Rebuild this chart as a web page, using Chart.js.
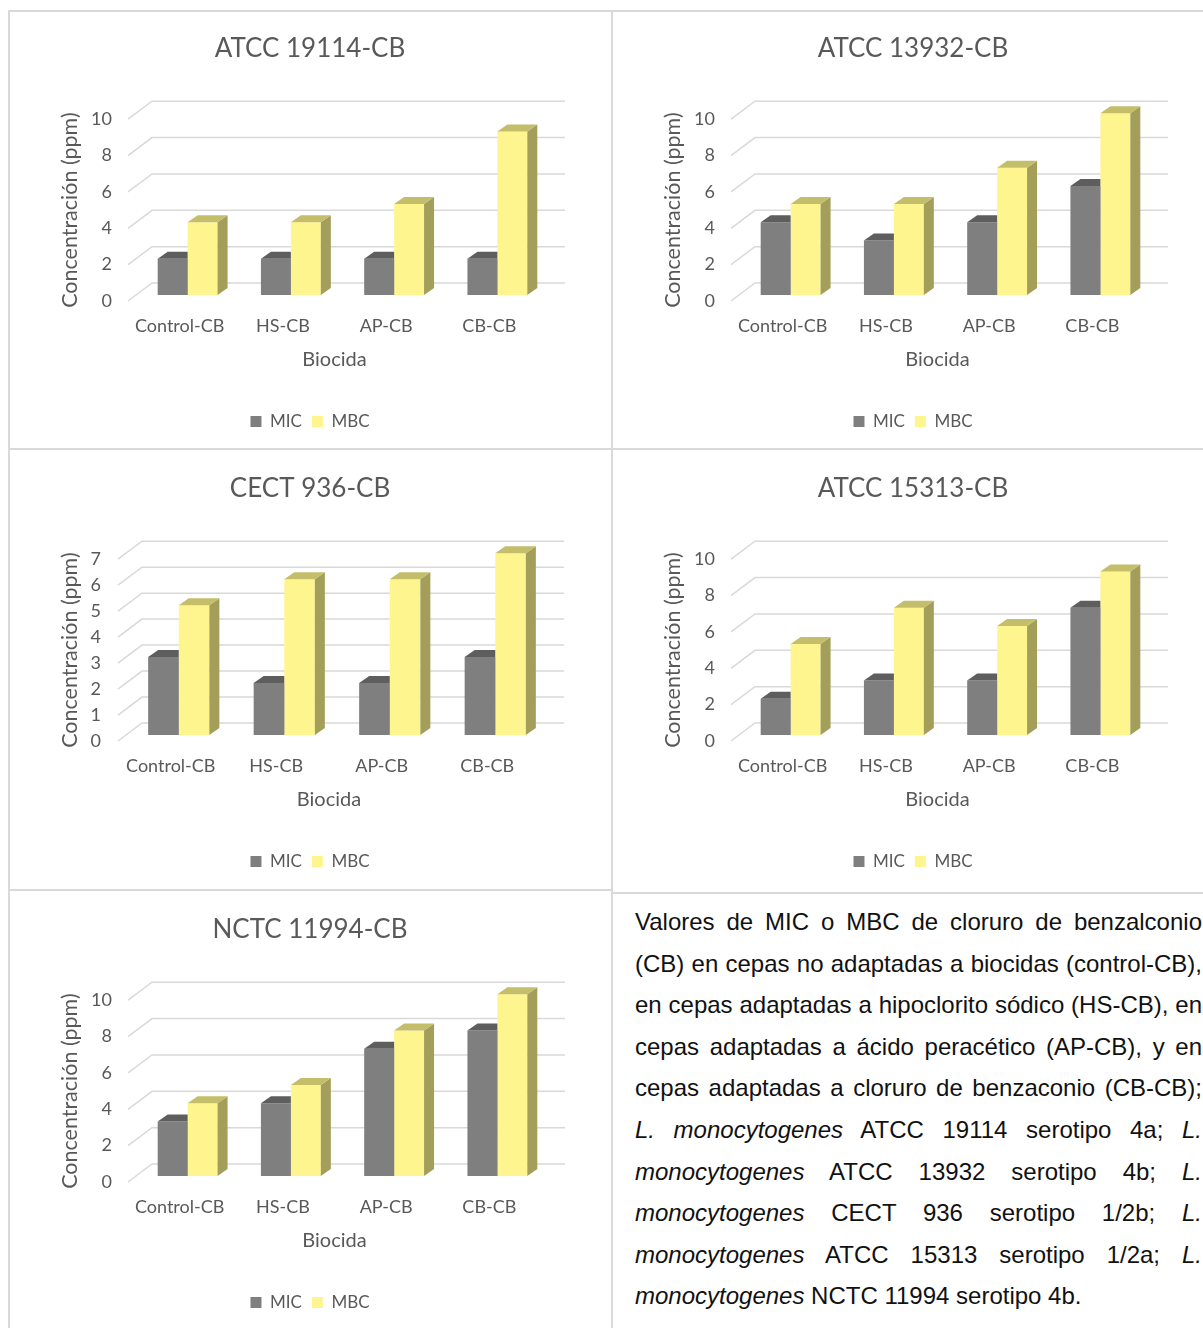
<!DOCTYPE html>
<html lang="es">
<head>
<meta charset="utf-8">
<title>MIC / MBC cloruro de benzalconio</title>
<script src="https://cdn.jsdelivr.net/npm/chart.js@4.4.1/dist/chart.umd.min.js"></script>
<style>
  html, body { margin: 0; padding: 0; background: #fff; width: 1203px; height: 1328px; overflow: hidden; }
  body { position: relative; }
  .panel { position: absolute; }
  .rule { position: absolute; background: #d9d9d9; }
  #caption {
    position: absolute; left: 635px; top: 901px; width: 567px;
    font-family: "Liberation Sans", Arial, sans-serif; font-size: 24px; line-height: 41.6px;
    text-align: justify; color: #111;
  }
</style>
</head>
<body>

<div class="rule" style="left:8px; top:10px; width:1195px; height:2px;"></div>
<div class="rule" style="left:8px; top:10px; width:2px; height:1318px;"></div>
<div class="rule" style="left:611px; top:10px; width:2px; height:1318px;"></div>
<div class="rule" style="left:8px; top:448px; width:1195px; height:2px;"></div>
<div class="rule" style="left:8px; top:889px; width:604px; height:2px;"></div>
<div class="rule" style="left:611px; top:892px; width:592px; height:2px;"></div>

<div id="caption">Valores de MIC o MBC de cloruro de benzalconio (CB) en cepas no adaptadas a biocidas (control-CB), en cepas adaptadas a hipoclorito sódico (HS-CB), en cepas adaptadas a ácido peracético (AP-CB), y en cepas adaptadas a cloruro de benzaconio (CB-CB); <i>L. monocytogenes</i> ATCC 19114 serotipo 4a; <i>L. monocytogenes</i> ATCC 13932 serotipo 4b; <i>L. monocytogenes</i> CECT 936 serotipo 1/2b; <i>L. monocytogenes</i> ATCC 15313 serotipo 1/2a; <i>L. monocytogenes</i> NCTC 11994 serotipo 4b.</div>

<script>
// --- data ---
const categories = ['Control-CB', 'HS-CB', 'AP-CB', 'CB-CB'];
const seriesNames = ['MIC', 'MBC'];

const mic19114 = [2, 2, 2, 2];
const mbc19114 = [4, 4, 5, 9];
const mic13932 = [4, 3, 4, 6];
const mbc13932 = [5, 5, 7, 10];
const mic936 = [3, 2, 2, 3];
const mbc936 = [5, 6, 6, 7];
const mic15313 = [2, 3, 3, 7];
const mbc15313 = [5, 7, 6, 9];
const mic11994 = [3, 4, 7, 8];
const mbc11994 = [4, 5, 8, 10];

// --- look ---
const FONT = 'Lato';
const textColor = '#595959';
const gridColor = '#d9d9d9';
const micColors = { front: '#7f7f7f', top: '#5e5e5e', side: '#666666' };
const mbcColors = { front: '#fff58f', top: '#c4be6a', side: '#a39e5a' };

const floorDx = 24, floorDy = 18;   // depth of the 3D floor
const barShiftX = 8, barShiftY = 6; // bars sit a bit back from the front edge
const barDx = 10, barDy = 7;        // depth of each bar

const CW = 600, CH = 436;

// one entry per panel: where it sits on the page and how its axis runs
const panels = [
  { title: 'ATCC 19114-CB', mic: mic19114, mbc: mbc19114, max: 10, step: 2, left: 10,  top: 12,  areaLeft: 118, areaRight: 531, tickPad: 16 },
  { title: 'ATCC 13932-CB', mic: mic13932, mbc: mbc13932, max: 10, step: 2, left: 613, top: 12,  areaLeft: 118, areaRight: 531, tickPad: 16 },
  { title: 'CECT 936-CB',   mic: mic936,   mbc: mbc936,   max: 7,  step: 1, left: 10,  top: 452, areaLeft: 108, areaRight: 530, tickPad: 17 },
  { title: 'ATCC 15313-CB', mic: mic15313, mbc: mbc15313, max: 10, step: 2, left: 613, top: 452, areaLeft: 118, areaRight: 531, tickPad: 16 },
  { title: 'NCTC 11994-CB', mic: mic11994, mbc: mbc11994, max: 10, step: 2, left: 10,  top: 893, areaLeft: 118, areaRight: 531, tickPad: 16 },
];

function fillPoly(ctx, pts) {
  ctx.beginPath();
  ctx.moveTo(pts[0][0], pts[0][1]);
  for (let i = 1; i < pts.length; i++) ctx.lineTo(pts[i][0], pts[i][1]);
  ctx.closePath();
  ctx.fill();
}

const BAR_PROPS = ['x', 'y', 'base', 'width'];

// fakes the Excel 3D column look: slanted floor/back wall grid + bar tops and sides
const depthPlugin = {
  id: 'depth3d',
  beforeDatasetsDraw(chart) {
    const { ctx, chartArea: a, scales: { y } } = chart;
    ctx.save();
    ctx.strokeStyle = gridColor;
    ctx.lineWidth = 1.5;
    y.ticks.forEach(t => {
      const py = y.getPixelForValue(t.value);
      ctx.beginPath();
      ctx.moveTo(a.left, py);
      ctx.lineTo(a.left + floorDx, py - floorDy);
      ctx.lineTo(a.right + floorDx, py - floorDy);
      ctx.stroke();
    });
    ctx.restore();
  },
  beforeDatasetDraw(chart) {
    chart.ctx.save();
    chart.ctx.translate(barShiftX, -barShiftY);
  },
  afterDatasetDraw(chart, args) {
    const ctx = chart.ctx;
    const ds = chart.data.datasets[args.index];
    const nSets = chart.data.datasets.length;
    args.meta.data.forEach((bar, j) => {
      const { x, y, base, width } = bar.getProps(BAR_PROPS, true);
      const l = x - width / 2, r = x + width / 2;
      ctx.save();
      // datasets paint last-to-first, so keep this bar's top/side behind the fronts already drawn
      ctx.beginPath();
      ctx.rect(-1000, -1000, 4000, 4000);
      for (let k = args.index + 1; k < nSets; k++) {
        const nb = chart.getDatasetMeta(k).data[j].getProps(BAR_PROPS, true);
        ctx.rect(nb.x - nb.width / 2, nb.y, nb.width, nb.base - nb.y);
      }
      ctx.clip('evenodd');
      ctx.fillStyle = ds.sideColor;
      fillPoly(ctx, [[r, y], [r + barDx, y - barDy], [r + barDx, base - barDy], [r, base]]);
      ctx.fillStyle = ds.topColor;
      fillPoly(ctx, [[l, y], [r, y], [r + barDx, y - barDy], [l + barDx, y - barDy]]);
      ctx.restore();
    });
    ctx.restore();
  }
};

function buildPanel(p) {
  const canvas = document.createElement('canvas');
  canvas.width = CW;
  canvas.height = CH;
  canvas.className = 'panel';
  canvas.style.left = p.left + 'px';
  canvas.style.top = p.top + 'px';
  document.body.appendChild(canvas);

  new Chart(canvas, {
    type: 'bar',
    data: {
      labels: categories,
      datasets: [
        { label: seriesNames[0], data: p.mic, backgroundColor: micColors.front, topColor: micColors.top, sideColor: micColors.side },
        { label: seriesNames[1], data: p.mbc, backgroundColor: mbcColors.front, topColor: mbcColors.top, sideColor: mbcColors.side }
      ]
    },
    options: {
      responsive: false,
      animation: false,
      devicePixelRatio: 1,
      layout: { padding: { top: 0, left: 0, right: 0, bottom: 8 } },
      datasets: { bar: { categoryPercentage: 0.58, barPercentage: 1.0, borderWidth: 0, clip: false } },
      scales: {
        x: {
          grid: { display: false, drawTicks: false },
          border: { display: false },
          ticks: { color: textColor, font: { family: FONT, size: 18 }, padding: 14, maxRotation: 0 },
          title: { display: true, text: 'Biocida', color: textColor, font: { family: FONT, size: 20 }, padding: { top: 0, bottom: 31 } },
          afterFit: s => { s.height = 102; }
        },
        y: {
          min: 0, max: p.max,
          grid: { display: false, drawTicks: false },
          border: { display: false },
          ticks: { stepSize: p.step, color: textColor, font: { family: FONT, size: 18 }, padding: p.tickPad },
          title: { display: true, text: 'Concentración (ppm)', color: textColor, font: { family: FONT, size: 21.5 }, padding: { top: 47, bottom: 0 } },
          afterFit: s => { s.width = p.areaLeft; }
        },
        yR: {
          position: 'right',
          grid: { display: false, drawTicks: false },
          border: { display: false },
          ticks: { display: false },
          afterFit: s => { s.width = CW - p.areaRight; }
        }
      },
      plugins: {
        title: { display: true, text: p.title, color: textColor, font: { family: FONT, size: 26, weight: 'normal' }, padding: { top: 21, bottom: 55 } },
        legend: {
          position: 'bottom',
          labels: { color: textColor, font: { family: FONT, size: 17 }, boxWidth: 11, boxHeight: 11, padding: 10 }
        },
        tooltip: { enabled: false }
      }
    },
    plugins: [depthPlugin]
  });
}

panels.forEach(buildPanel);
</script>
</body>
</html>
